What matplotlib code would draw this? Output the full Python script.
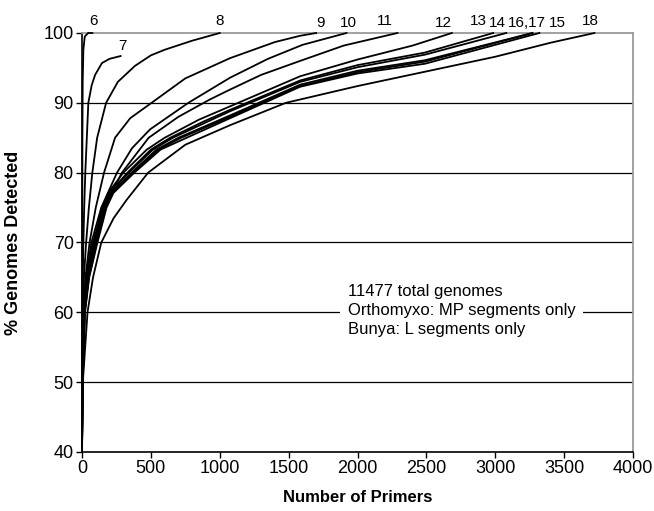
import matplotlib
matplotlib.use("Agg")
import matplotlib.pyplot as plt

plt.rcParams["font.family"] = ["Liberation Sans", "DejaVu Sans"]

# Cumulative detection curves: (number of primers, % genomes detected)
p6 = [0, 1, 2, 3, 5, 10, 20, 45, 75]
v6 = [40, 55, 70, 85, 93, 97.6, 99.5, 100, 100]

p7 = [0, 1, 3, 6, 10, 16, 24, 35, 46, 70, 95, 145, 200, 280]
v7 = [40, 50, 60, 65, 70, 75, 80, 85, 90, 92.5, 94, 95.7, 96.3, 96.7]

p8 = [0, 2, 6, 14, 30, 50, 75, 110, 175, 260, 385, 500, 600, 800, 1000]
v8 = [40, 50, 60, 65, 70, 75, 80, 85, 90, 93, 95.3, 96.8, 97.6, 98.9, 100]

p9 = [0, 3, 10, 25, 55, 100, 160, 240, 350, 505, 750, 1075, 1400, 1583, 1700]
v9 = [40, 50, 60, 65, 70, 75, 80, 85, 87.8, 90, 93.5, 96.4, 98.7, 99.6, 100]

p10 = [0, 3, 12, 30, 68, 140, 254, 363, 494, 772, 1075, 1350, 1600, 1920]
v10 = [40, 50, 60, 65, 70, 75, 80, 83.5, 86.2, 90, 93.6, 96.3, 98.3, 100]

p11 = [0, 3, 14, 33, 78, 160, 290, 484, 700, 930, 1075, 1300, 1583, 1900, 2290]
v11 = [40, 50, 60, 65, 70, 75, 80, 85, 88, 90.5, 91.9, 94, 96.0, 98.2, 100]

p12 = [0, 3, 14, 38, 85, 145, 190, 300, 470, 600, 850, 1075, 1583, 2000, 2400, 2685]
v12 = [40, 50, 60, 65, 70, 75, 77.1, 80, 83.3, 85, 87.6, 89.5, 93.8, 96.2, 98.2, 100]

p13 = [0, 4, 16, 41, 92, 152, 198, 330, 500, 640, 880, 1075, 1583, 2000, 2490, 2985]
v13 = [40, 50, 60, 65, 70, 75, 77.1, 80, 83.3, 85, 87.3, 89.0, 93.2, 95.4, 97.2, 100]

p14 = [0, 4, 17, 43, 96, 158, 205, 340, 515, 660, 900, 1075, 1583, 2000, 2490, 3080]
v14 = [40, 50, 60, 65, 70, 75, 77.1, 80, 83.3, 85, 87.2, 88.8, 93.0, 95.1, 96.9, 100]

p15 = [0, 5, 22, 52, 112, 178, 228, 380, 570, 760, 1075, 1583, 2000, 2490, 3320]
v15 = [40, 50, 60, 65, 70, 75, 77.1, 80, 83.3, 85, 87.8, 92.3, 94.2, 95.6, 100]

p16 = [0, 5, 19, 47, 102, 165, 213, 360, 540, 700, 1075, 1583, 2000, 2490, 3270]
v16 = [40, 50, 60, 65, 70, 75, 77.1, 80, 83.3, 85, 88.2, 92.6, 94.6, 96.1, 100]

p17 = [0, 5, 20, 50, 107, 172, 220, 370, 555, 720, 1075, 1583, 2000, 2490, 3270]
v17 = [40, 50, 60, 65, 70, 75, 77.1, 80, 83.3, 85, 88.0, 92.4, 94.4, 95.9, 100]

p18 = [0, 6, 40, 80, 140, 230, 324, 480, 750, 1075, 1480, 2000, 2500, 3000, 3400, 3720]
v18 = [40, 50, 60, 65, 70, 73.5, 76.1, 80, 84.0, 86.8, 90.0, 92.4, 94.5, 96.6, 98.6, 100]

curves = [(p6, v6), (p7, v7), (p8, v8), (p9, v9), (p10, v10), (p11, v11),
          (p12, v12), (p13, v13), (p14, v14), (p15, v15), (p16, v16),
          (p17, v17), (p18, v18)]

# Curve labels and where they sit (primers, % baseline)
curve_labels = ["6", "7", "8", "9", "10", "11", "12", "13", "14", "16,17", "15", "18"]
label_x = [80, 290, 1002, 1728, 1931, 2200, 2620, 2875, 3013, 3230, 3448, 3688]
label_y = [101.2, 97.6, 101.2, 100.9, 100.8, 101.1, 100.8, 101.1, 100.9, 100.8, 100.8, 101.1]

x_ticks = [0, 500, 1000, 1500, 2000, 2500, 3000, 3500, 4000]
y_ticks = [40, 50, 60, 70, 80, 90, 100]
grid_levels = [50, 60, 70, 80, 90]

note = "11477 total genomes\nOrthomyxo: MP segments only\nBunya: L segments only"

fig = plt.figure(figsize=(6.54, 5.11), dpi=100)
ax = fig.add_axes([82 / 654, 1 - 452 / 511, 551 / 654, 419 / 511])

for g in grid_levels:
    ax.axhline(g, color="black", lw=0.9, zorder=1)

for px, pv in curves:
    ax.plot(px, pv, color="black", lw=1.3, zorder=3, clip_on=False,
            solid_joinstyle="round")

for txt, lx, ly in zip(curve_labels, label_x, label_y):
    ax.text(lx, ly, txt, ha="center", va="baseline", fontsize=11,
            clip_on=False)

ax.text(1931, 60.3, note, ha="left", va="center", fontsize=12,
        linespacing=1.35, zorder=5,
        bbox=dict(boxstyle="square,pad=0.45", facecolor="white", edgecolor="none"))

ax.set_xlim(0, 4000)
ax.set_ylim(40, 100)
ax.set_xticks(x_ticks)
ax.set_yticks(y_ticks)
ax.tick_params(direction="out", length=4, width=1, labelsize=13, pad=2)

for side in ("left", "bottom"):
    ax.spines[side].set_color("black")
    ax.spines[side].set_linewidth(1.2)
for side in ("top", "right"):
    ax.spines[side].set_color("#9a9a9a")
    ax.spines[side].set_linewidth(1.3)

ax.set_xlabel("Number of Primers", fontsize=12, fontweight="bold")
ax.set_ylabel("% Genomes Detected", fontsize=13, fontweight="bold")
ax.xaxis.set_label_coords(0.5, -0.09)
ax.yaxis.set_label_coords(-0.109, 0.5)

fig.savefig("out.png", dpi=100)
